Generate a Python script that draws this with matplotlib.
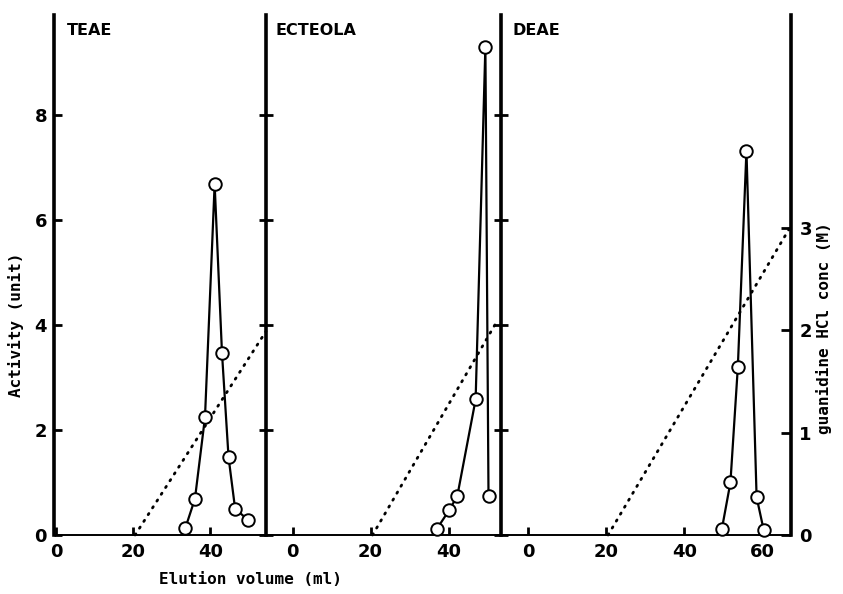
import numpy as np
import matplotlib
matplotlib.use("Agg")
import matplotlib.pyplot as plt

# Data (elution volume in ml, activity in units)
teae_vol = [33.5, 36.0, 38.6, 41.1, 43.0, 44.7, 46.4, 49.7]
teae_act = [0.13, 0.69, 2.24, 6.68, 3.47, 1.48, 0.50, 0.29]
ecteola_vol = [37.0, 40.1, 42.2, 46.9, 49.4, 50.2]
ecteola_act = [0.12, 0.47, 0.74, 2.58, 9.30, 0.74]
deae_vol = [49.6, 51.8, 53.7, 55.9, 58.5, 60.3]
deae_act = [0.11, 1.00, 3.20, 7.32, 0.72, 0.10]

# guanidine HCl gradient (M), start and end of each dotted line
teae_grad_vol = [20.5, 54.4]
teae_grad_conc = [0.0, 1.99]
ecteola_grad_vol = [20.5, 52.4]
ecteola_grad_conc = [0.0, 2.09]
deae_grad_vol = [20.5, 67.3]
deae_grad_conc = [0.0, 3.02]

panel_names = ["TEAE", "ECTEOLA", "DEAE"]
act_ticks = [0, 2, 4, 6, 8]
conc_ticks = [0, 1, 2, 3]

W, H = 843, 594
fig = plt.figure(figsize=(W / 100, H / 100), dpi=100)

y0, y1 = 535, 15
ymax = 9.9
conc_max = 5.08
bottom = (H - y0) / H
height = (y0 - y1) / H

# panel pixel extents and x limits
panels = [
    (54, 266, (-0.5, 54.4), [0, 20, 40]),
    (266, 501, (-6.8, 53.4), [0, 20, 40]),
    (501, 791, (-6.9, 67.3), [0, 20, 40, 60]),
]
series = [
    (teae_vol, teae_act, teae_grad_vol, teae_grad_conc),
    (ecteola_vol, ecteola_act, ecteola_grad_vol, ecteola_grad_conc),
    (deae_vol, deae_act, deae_grad_vol, deae_grad_conc),
]

tick_font = dict(fontsize=13, fontweight="bold", family="DejaVu Sans")
axes = []
for i, ((xa, xb, xl, xt), (vol, act, gv, gc)) in enumerate(zip(panels, series)):
    ax = fig.add_axes([xa / W, bottom, (xb - xa) / W, height])
    ax.set_xlim(*xl)
    ax.set_ylim(0, ymax)
    for s in ["top", "right"]:
        ax.spines[s].set_visible(False)
    ax.spines["left"].set_linewidth(2.6)
    ax.spines["bottom"].set_linewidth(1.4)
    ax.set_xticks(xt)
    ax.set_xticklabels([str(t) for t in xt], **tick_font)
    ax.tick_params(axis="x", direction="in", length=6, width=2, pad=6)
    ax.set_yticks(act_ticks)
    if i == 0:
        ax.set_yticklabels([str(t) for t in act_ticks], **tick_font)
        ax.tick_params(axis="y", direction="in", length=6, width=2, pad=5)
    else:
        ax.set_yticklabels([])
        ax.tick_params(axis="y", direction="inout", length=10, width=2)

    # gradient drawn on the concentration scale
    tw = ax.twinx()
    tw.set_ylim(0, conc_max)
    tw.axis("off")
    tw.plot(gv, gc, color="black", linestyle=(0, (0.5, 2.4)), linewidth=2.0,
            dash_capstyle="round", clip_on=False)

    ax.plot(vol, act, color="black", linewidth=1.6, marker="o",
            markersize=9, markerfacecolor="white", markeredgecolor="black",
            markeredgewidth=1.4, clip_on=False, zorder=5)
    ax.set_zorder(tw.get_zorder() + 1)
    ax.patch.set_visible(False)

    ax.text(0.06 if i == 0 else 0.04, 0.985, panel_names[i], transform=ax.transAxes,
            fontsize=11.5, fontweight="bold", ha="left", va="top")
    axes.append(ax)

# right-hand concentration axis
rax = axes[2].twinx()
rax.set_ylim(0, conc_max)
for s in ["top", "left", "bottom"]:
    rax.spines[s].set_visible(False)
rax.spines["right"].set_linewidth(2.6)
rax.set_yticks(conc_ticks)
rax.set_yticklabels([str(t) for t in conc_ticks], **tick_font)
rax.tick_params(axis="y", direction="in", length=7, width=2, pad=6)

label_font = dict(family="DejaVu Sans Mono", fontsize=11.5, fontweight="bold")
fig.text(250 / W, 1 - 579 / H, "Elution volume (ml)", ha="center", va="center", **label_font)
fig.text(16 / W, 1 - 325 / H, "Activity (unit)", ha="center", va="center",
         rotation=90, **label_font)
fig.text(824 / W, 1 - 328 / H, "guanidine HCl conc (M)", ha="center", va="center",
         rotation=90, **label_font)

fig.savefig("out.png", dpi=100)
